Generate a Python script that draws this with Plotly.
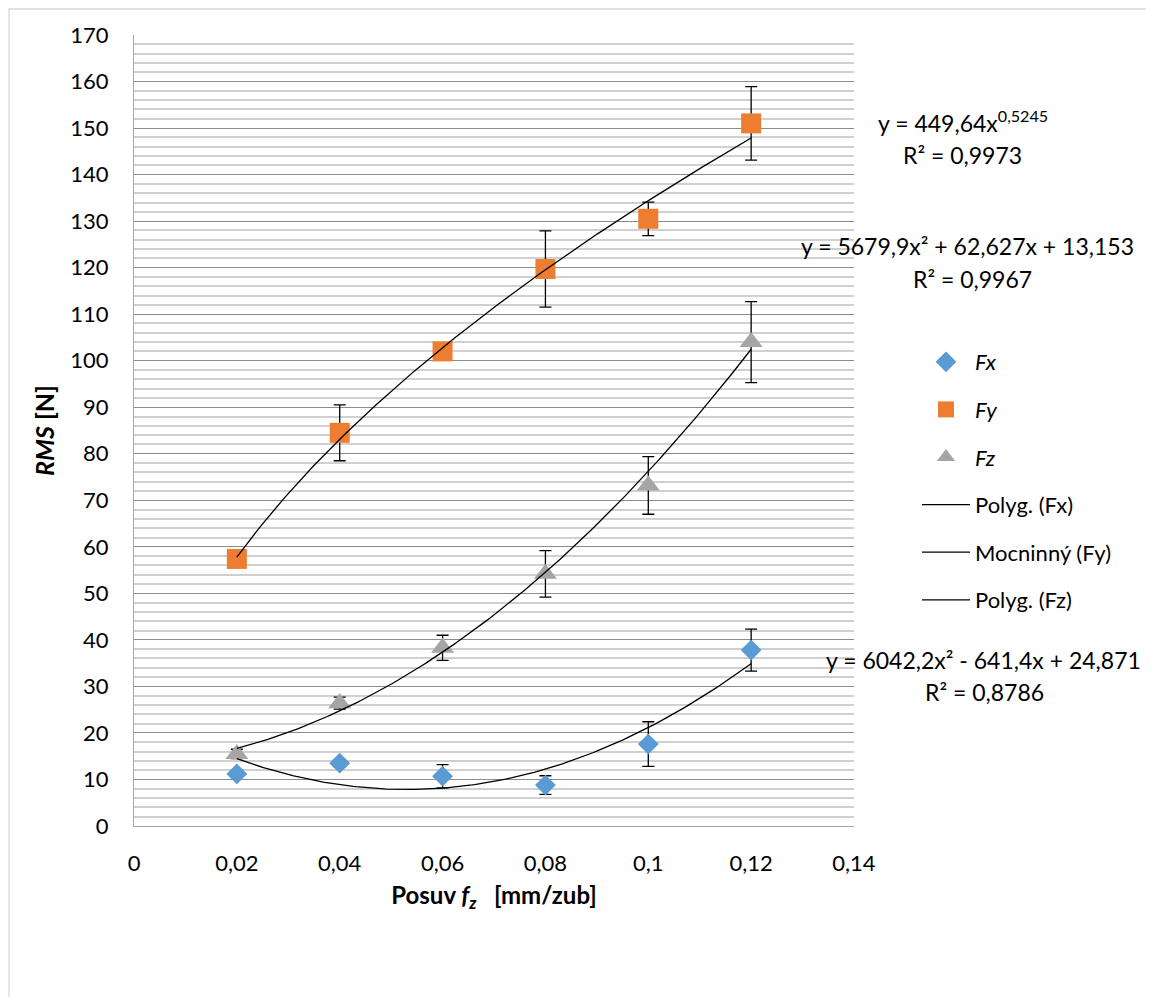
import numpy as np
import plotly.graph_objects as go

# ---- data ----
feed = [0.02, 0.04, 0.06, 0.08, 0.10, 0.12]
fx = [11.2, 13.5, 10.7, 8.8, 17.6, 37.8]
fx_err = [0.8, 0.8, 2.5, 2.0, 4.8, 4.5]
fy = [57.4, 84.5, 102.0, 119.7, 130.5, 151.0]
fy_err = [1.0, 6.0, 1.5, 8.2, 3.6, 7.9]
fz = [15.5, 26.4, 38.3, 54.2, 73.2, 104.0]
fz_err = [1.0, 1.3, 2.7, 5.0, 6.2, 8.7]

# trendline coefficients (as printed in the chart)
fx_poly = [6042.2, -641.4, 24.871]
fy_pow = [449.64, 0.5245]
fz_poly = [5679.9, 62.627, 13.153]

x_ticks = [0, 0.02, 0.04, 0.06, 0.08, 0.10, 0.12, 0.14]

FONT = "Lato"
OFF = 8  # page body margin
W, H = 1154 - OFF, 997 - OFF
L, R, T, B = 126, 300, 27, 171
PW, PH = W - L - R, H - T - B


def px(xp):
    # screenshot x -> paper
    return (xp - OFF - L) / PW


def py(yp):
    # screenshot y -> paper
    return (H - B - (yp - OFF)) / PH


xt = np.linspace(min(feed), max(feed), 200)
fx_trend = np.polyval(fx_poly, xt)
fy_trend = fy_pow[0] * xt ** fy_pow[1]
fz_trend = np.polyval(fz_poly, xt)

fig = go.Figure()

err_style = dict(type="data", color="black", thickness=1.3, width=6, visible=True)

fig.add_trace(go.Scatter(x=feed, y=fx, mode="markers", name="<i>Fx</i>",
                         marker=dict(symbol="diamond", size=16, color="#5b9bd5"),
                         error_y=dict(array=fx_err, **err_style), legendgroup="a"))
fig.add_trace(go.Scatter(x=feed, y=fy, mode="markers", name="<i>Fy</i>",
                         marker=dict(symbol="square", size=20, color="#ed7d31"),
                         error_y=dict(array=fy_err, **err_style), legendgroup="b"))
fig.add_trace(go.Scatter(x=feed, y=fz, mode="markers", name="<i>Fz</i>",
                         marker=dict(symbol="triangle-up", size=20, color="#a5a5a5"),
                         error_y=dict(array=fz_err, **err_style), legendgroup="c"))

line_style = dict(color="black", width=1.3)
fig.add_trace(go.Scatter(x=xt, y=fx_trend, mode="lines", name="Polyg. (Fx)",
                         line=line_style, legendgroup="d"))
fig.add_trace(go.Scatter(x=xt, y=fy_trend, mode="lines", name="Mocninný (Fy)",
                         line=line_style, legendgroup="e"))
fig.add_trace(go.Scatter(x=xt, y=fz_trend, mode="lines", name="Polyg. (Fz)",
                         line=line_style, legendgroup="f"))

ann_font = dict(family=FONT, size=23, color="black")
anns = [
    ("y = 449,64x<sup>0,5245</sup>", 963, 122),
    ("R² = 0,9973", 963, 155),
    ("y = 5679,9x² + 62,627x + 13,153", 967, 246),
    ("R² = 0,9967", 972, 279),
    ("y = 6042,2x² - 641,4x + 24,871", 983, 660),
    ("R² = 0,8786", 984, 692),
]
for text, xp, yp in anns:
    fig.add_annotation(text=text, x=px(xp), y=py(yp), xref="paper", yref="paper",
                       showarrow=False, xanchor="center", yanchor="middle", font=ann_font)

# outer chart border
fig.add_shape(type="rect", xref="paper", yref="paper",
              x0=px(OFF + 1), x1=px(1152), y0=py(1010), y1=py(OFF + 1),
              line=dict(color="#d9d9d9", width=1.3), fillcolor="rgba(0,0,0,0)", layer="below")

fig.update_layout(
    width=W, height=H,
    margin=dict(l=L, r=R, t=T, b=B, autoexpand=False),
    paper_bgcolor="white", plot_bgcolor="white",
    separators=", ",
    font=dict(family=FONT, size=22, color="black"),
    showlegend=True,
    legend=dict(x=px(917), y=py(341), xanchor="left", yanchor="top",
                font=dict(family=FONT, size=22, color="black"),
                tracegroupgap=16, itemwidth=48, bgcolor="rgba(0,0,0,0)"),
    xaxis=dict(range=[0, 0.14], tickvals=x_ticks, showgrid=False, zeroline=False,
               showline=True, linecolor="#a6a6a6", linewidth=1.3,
               ticks="outside", ticklen=17, tickcolor="rgba(0,0,0,0)",
               tickfont=dict(family=FONT, size=22),
               title=dict(text="<b>Posuv <i>f<sub>z</sub></i>   [mm/zub]</b>",
                          font=dict(family=FONT, size=24), standoff=12)),
    yaxis=dict(range=[0, 170], dtick=10, showgrid=True, gridcolor="#8c8c8c", gridwidth=1,
               zeroline=False, showline=True, linecolor="#a6a6a6", linewidth=1.3,
               ticks="outside", ticklen=20, tickcolor="rgba(0,0,0,0)",
               tickfont=dict(family=FONT, size=22),
               minor=dict(dtick=2, showgrid=True, gridcolor="#d0d0d0", gridwidth=1.5),
               title=dict(text="<b><i>RMS</i> [N]</b>", font=dict(family=FONT, size=25),
                          standoff=8)),
)

fig.write_html("out.html")
